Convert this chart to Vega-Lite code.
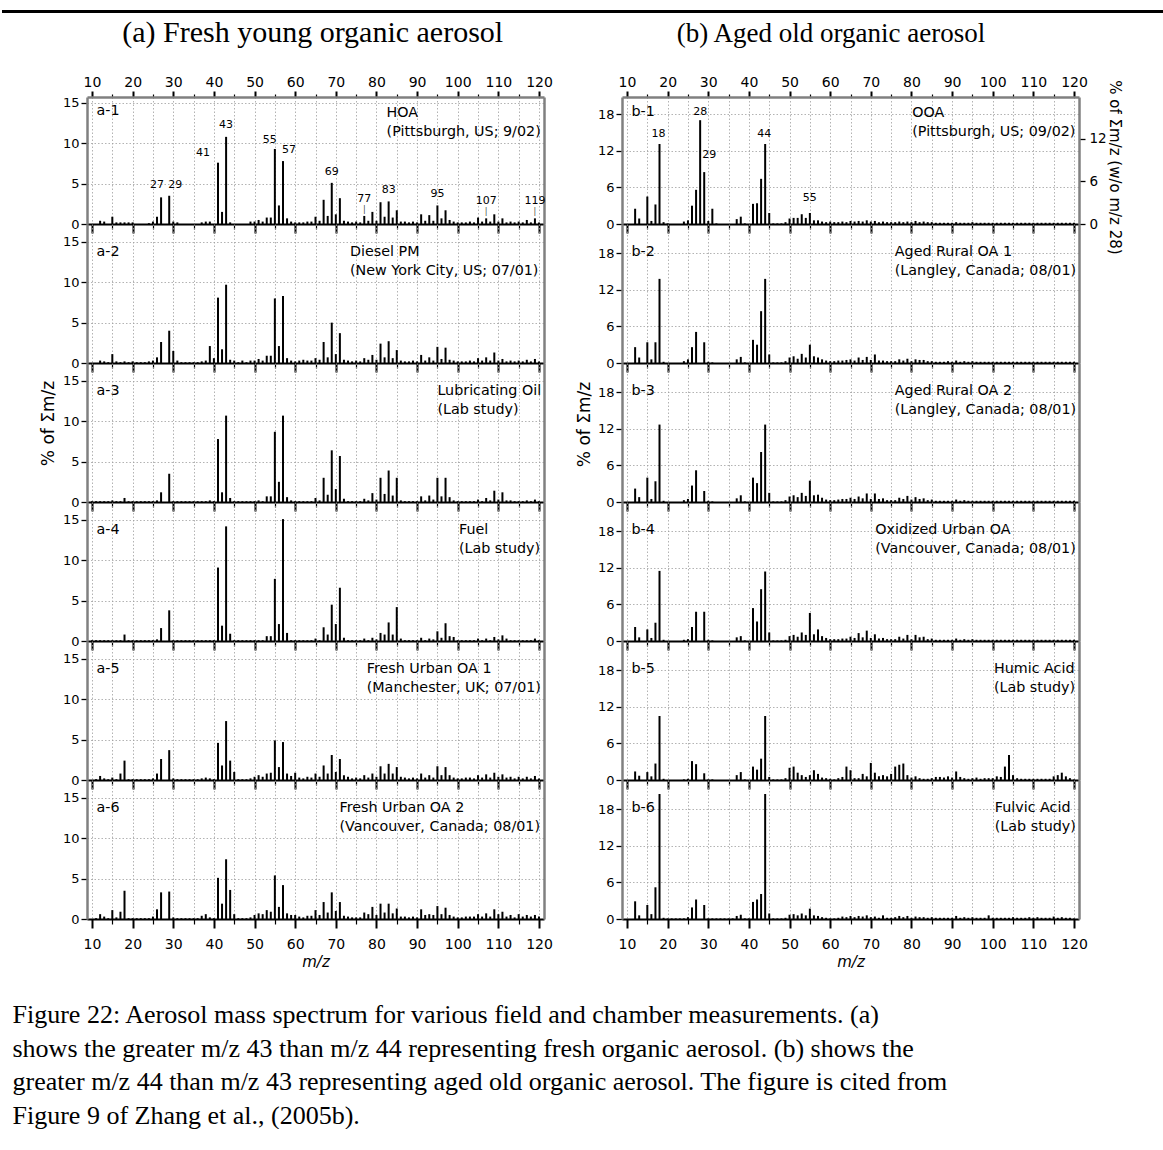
{
"$schema": "https://vega.github.io/schema/vega-lite/v6.json",
"background": "white",
"padding": 0,
"config": {
 "view": {"stroke": null},
 "font": "DejaVu Sans",
 "text": {"font": "DejaVu Sans", "color": "black"},
 "axis": {"labelFont": "DejaVu Sans", "labelFontSize": 13.5, "labelColor": "black", "tickColor": "black", "domainColor": "#808080", "domainWidth": 2.5, "gridColor": "#a0a0a0", "gridDash": [1.5, 2], "gridWidth": 0.8, "titleFont": "DejaVu Sans", "titleFontWeight": "normal", "titleColor": "black", "labelPadding": 2, "tickSize": 6, "tickWidth": 1.3, "labelFlush": false, "labelOverlap": false},
 "axisLeft": {"labelFontSize": 13},
 "axisBottom": {"domainColor": "black", "domainWidth": 2},
 "title": {"font": "Liberation Serif", "fontWeight": "normal", "color": "black"}
},
"datasets": {"ms": [
{"m":10,"a1":0,"a2":0,"a3":0.1,"a4":0.1,"a5":0,"a6":0,"b1":0,"b2":0,"b3":0,"b4":0,"b5":0,"b6":0},
{"m":11,"a1":0,"a2":0,"a3":0.1,"a4":0.1,"a5":0.1,"a6":0.1,"b1":0,"b2":0,"b3":0,"b4":0,"b5":0,"b6":0},
{"m":12,"a1":0.4,"a2":0.3,"a3":0.1,"a4":0.1,"a5":0.5,"a6":0.6,"b1":2.5,"b2":2.6,"b3":2.2,"b4":2.3,"b5":1.4,"b6":2.9},
{"m":13,"a1":0.3,"a2":0.2,"a3":0.1,"a4":0.1,"a5":0.2,"a6":0.3,"b1":0.9,"b2":0.9,"b3":0.8,"b4":0.6,"b5":0.7,"b6":0.6},
{"m":14,"a1":0,"a2":0.1,"a3":0.1,"a4":0.1,"a5":0.1,"a6":0.1,"b1":0,"b2":0,"b3":0,"b4":0,"b5":0,"b6":0},
{"m":15,"a1":0.9,"a2":1.1,"a3":0.2,"a4":0.1,"a5":0.3,"a6":1.1,"b1":4.5,"b2":3.4,"b3":4.0,"b4":1.9,"b5":1.3,"b6":2.3},
{"m":16,"a1":0.2,"a2":0.2,"a3":0.1,"a4":0.1,"a5":0.1,"a6":0.2,"b1":0.5,"b2":0.6,"b3":0.5,"b4":0.5,"b5":0.6,"b6":0.8},
{"m":17,"a1":0.2,"a2":0.1,"a3":0.1,"a4":0.1,"a5":0.8,"a6":0.9,"b1":3.2,"b2":3.4,"b3":3.4,"b4":3.0,"b5":2.7,"b6":5.2},
{"m":18,"a1":0.2,"a2":0.2,"a3":0.5,"a4":0.8,"a5":2.4,"a6":3.5,"b1":13.1,"b2":13.8,"b3":12.7,"b4":11.5,"b5":10.5,"b6":20.5},
{"m":19,"a1":0.2,"a2":0.1,"a3":0.1,"a4":0.1,"a5":0.1,"a6":0.1,"b1":0.3,"b2":0.2,"b3":0.2,"b4":0.2,"b5":0.2,"b6":0.2},
{"m":20,"a1":0.2,"a2":0.2,"a3":0.1,"a4":0.1,"a5":0.1,"a6":0.1,"b1":0.1,"b2":0,"b3":0,"b4":0,"b5":0,"b6":0.1},
{"m":21,"a1":0,"a2":0.1,"a3":0.1,"a4":0.1,"a5":0.1,"a6":0.1,"b1":0,"b2":0,"b3":0,"b4":0,"b5":0,"b6":0.1},
{"m":22,"a1":0,"a2":0.1,"a3":0.1,"a4":0.1,"a5":0.1,"a6":0.1,"b1":0,"b2":0,"b3":0,"b4":0,"b5":0,"b6":0.1},
{"m":23,"a1":0,"a2":0.1,"a3":0.1,"a4":0.1,"a5":0.1,"a6":0.1,"b1":0,"b2":0,"b3":0,"b4":0,"b5":0,"b6":0.1},
{"m":24,"a1":0.1,"a2":0.2,"a3":0.1,"a4":0.1,"a5":0.1,"a6":0.1,"b1":0.4,"b2":0.3,"b3":0.3,"b4":0.2,"b5":0.1,"b6":0.1},
{"m":25,"a1":0.3,"a2":0.3,"a3":0.1,"a4":0.1,"a5":0.2,"a6":0.3,"b1":0.6,"b2":0.6,"b3":0.5,"b4":0.3,"b5":0.2,"b6":0.3},
{"m":26,"a1":0.9,"a2":0.7,"a3":0.2,"a4":0.2,"a5":0.8,"a6":1.2,"b1":3.0,"b2":2.6,"b3":2.7,"b4":2.3,"b5":3.1,"b6":1.9},
{"m":27,"a1":3.3,"a2":2.6,"a3":1.2,"a4":1.6,"a5":2.6,"a6":3.3,"b1":5.6,"b2":5.1,"b3":5.2,"b4":4.8,"b5":2.6,"b6":3.2},
{"m":28,"a1":0,"a2":0,"a3":0,"a4":0,"a5":0,"a6":0,"b1":17.0,"b2":0,"b3":0,"b4":0,"b5":0,"b6":0},
{"m":29,"a1":3.5,"a2":4.0,"a3":3.5,"a4":3.8,"a5":3.7,"a6":3.4,"b1":8.5,"b2":3.4,"b3":1.8,"b4":4.8,"b5":1.1,"b6":2.3},
{"m":30,"a1":0.3,"a2":1.5,"a3":0.1,"a4":0.1,"a5":0.2,"a6":0.2,"b1":0.5,"b2":0.2,"b3":0.2,"b4":0.2,"b5":0.1,"b6":0.1},
{"m":31,"a1":0.2,"a2":0.3,"a3":0.1,"a4":0.1,"a5":0.1,"a6":0.1,"b1":2.5,"b2":0.1,"b3":0.1,"b4":0.1,"b5":0.1,"b6":0.1},
{"m":32,"a1":0,"a2":0.1,"a3":0.1,"a4":0.1,"a5":0.1,"a6":0.1,"b1":0.1,"b2":0,"b3":0,"b4":0,"b5":0,"b6":0.1},
{"m":33,"a1":0,"a2":0.1,"a3":0.1,"a4":0.1,"a5":0.1,"a6":0.1,"b1":0,"b2":0,"b3":0,"b4":0,"b5":0,"b6":0.1},
{"m":34,"a1":0,"a2":0.1,"a3":0.1,"a4":0.1,"a5":0.1,"a6":0.1,"b1":0,"b2":0,"b3":0,"b4":0,"b5":0,"b6":0.1},
{"m":35,"a1":0,"a2":0.1,"a3":0.1,"a4":0.1,"a5":0.1,"a6":0.1,"b1":0,"b2":0,"b3":0,"b4":0,"b5":0,"b6":0.1},
{"m":36,"a1":0,"a2":0.1,"a3":0.1,"a4":0.1,"a5":0.1,"a6":0.1,"b1":0,"b2":0,"b3":0,"b4":0,"b5":0,"b6":0.1},
{"m":37,"a1":0.2,"a2":0.2,"a3":0.1,"a4":0.1,"a5":0.2,"a6":0.4,"b1":0.8,"b2":0.6,"b3":0.6,"b4":0.6,"b5":0.8,"b6":0.5},
{"m":38,"a1":0.3,"a2":0.3,"a3":0.1,"a4":0.1,"a5":0.3,"a6":0.6,"b1":1.2,"b2":1.0,"b3":1.1,"b4":0.8,"b5":1.3,"b6":0.7},
{"m":39,"a1":0.3,"a2":2.1,"a3":0.2,"a4":0.1,"a5":0.2,"a6":0.2,"b1":0.1,"b2":0.1,"b3":0.1,"b4":0.1,"b5":0.1,"b6":0.1},
{"m":40,"a1":0,"a2":0.6,"a3":0.1,"a4":0.1,"a5":0.1,"a6":0.1,"b1":0,"b2":0,"b3":0,"b4":0,"b5":0,"b6":0.1},
{"m":41,"a1":7.6,"a2":8.1,"a3":7.8,"a4":9.1,"a5":4.6,"a6":5.1,"b1":3.3,"b2":3.8,"b3":4.0,"b4":5.4,"b5":2.2,"b6":2.8},
{"m":42,"a1":1.5,"a2":1.7,"a3":1.2,"a4":1.9,"a5":1.8,"a6":1.9,"b1":3.4,"b2":3.0,"b3":3.1,"b4":3.2,"b5":1.7,"b6":3.2},
{"m":43,"a1":10.8,"a2":9.7,"a3":10.7,"a4":14.2,"a5":7.3,"a6":7.4,"b1":7.4,"b2":8.5,"b3":8.2,"b4":8.5,"b5":3.5,"b6":4.1},
{"m":44,"a1":0.2,"a2":0.4,"a3":0.5,"a4":0.9,"a5":2.4,"a6":3.6,"b1":13.1,"b2":13.8,"b3":12.7,"b4":11.4,"b5":10.5,"b6":20.5},
{"m":45,"a1":0,"a2":0.3,"a3":0.1,"a4":0.1,"a5":1.0,"a6":0.6,"b1":1.8,"b2":1.4,"b3":1.5,"b4":1.4,"b5":0.5,"b6":0.9},
{"m":46,"a1":0,"a2":0.1,"a3":0.1,"a4":0.1,"a5":0.1,"a6":0.1,"b1":0.1,"b2":0.1,"b3":0.1,"b4":0.1,"b5":0.1,"b6":0.1},
{"m":47,"a1":0,"a2":0.3,"a3":0.1,"a4":0.1,"a5":0.1,"a6":0.1,"b1":0.1,"b2":0.1,"b3":0.1,"b4":0.1,"b5":0.1,"b6":0.1},
{"m":48,"a1":0,"a2":0.1,"a3":0.1,"a4":0.1,"a5":0.1,"a6":0.1,"b1":0.1,"b2":0.1,"b3":0.1,"b4":0.1,"b5":0.1,"b6":0.1},
{"m":49,"a1":0.3,"a2":0.3,"a3":0.1,"a4":0.1,"a5":0.2,"a6":0.2,"b1":0.3,"b2":0.3,"b3":0.3,"b4":0.2,"b5":0.3,"b6":0.2},
{"m":50,"a1":0.3,"a2":0.3,"a3":0.1,"a4":0.1,"a5":0.4,"a6":0.5,"b1":0.9,"b2":0.9,"b3":0.9,"b4":0.8,"b5":2.0,"b6":0.7},
{"m":51,"a1":0.5,"a2":0.5,"a3":0.2,"a4":0.1,"a5":0.6,"a6":0.7,"b1":1.0,"b2":1.1,"b3":1.1,"b4":1.0,"b5":2.2,"b6":0.8},
{"m":52,"a1":0.3,"a2":0.3,"a3":0.1,"a4":0.1,"a5":0.4,"a6":0.6,"b1":1.0,"b2":0.7,"b3":0.8,"b4":0.7,"b5":1.2,"b6":0.6},
{"m":53,"a1":0.8,"a2":0.9,"a3":0.7,"a4":0.6,"a5":0.8,"a6":1.1,"b1":1.6,"b2":1.5,"b3":1.5,"b4":1.4,"b5":0.8,"b6":0.9},
{"m":54,"a1":0.8,"a2":0.9,"a3":0.7,"a4":0.6,"a5":0.9,"a6":0.9,"b1":1.0,"b2":0.9,"b3":1.0,"b4":1.0,"b5":0.5,"b6":0.6},
{"m":55,"a1":9.3,"a2":8.0,"a3":8.7,"a4":7.7,"a5":4.9,"a6":5.4,"b1":1.8,"b2":3.0,"b3":3.5,"b4":4.6,"b5":0.8,"b6":1.7},
{"m":56,"a1":2.3,"a2":2.1,"a3":2.5,"a4":2.1,"a5":1.6,"a6":1.5,"b1":0.6,"b2":1.1,"b3":1.1,"b4":1.1,"b5":1.6,"b6":0.6},
{"m":57,"a1":7.8,"a2":8.3,"a3":10.7,"a4":15.1,"a5":4.7,"a6":4.2,"b1":0.6,"b2":0.9,"b3":1.2,"b4":1.9,"b5":1.0,"b6":0.5},
{"m":58,"a1":0.7,"a2":0.6,"a3":0.6,"a4":1.0,"a5":0.8,"a6":0.7,"b1":0.4,"b2":0.6,"b3":0.7,"b4":0.8,"b5":0.4,"b6":0.3},
{"m":59,"a1":0.3,"a2":0.3,"a3":0.2,"a4":0.1,"a5":0.5,"a6":0.5,"b1":0.3,"b2":0.4,"b3":0.4,"b4":0.5,"b5":0.3,"b6":0.2},
{"m":60,"a1":0.2,"a2":0.2,"a3":0.1,"a4":0.1,"a5":0.9,"a6":0.5,"b1":0.4,"b2":0.3,"b3":0.3,"b4":0.3,"b5":0.2,"b6":0.1},
{"m":61,"a1":0.2,"a2":0.3,"a3":0.1,"a4":0.1,"a5":0.3,"a6":0.3,"b1":0.3,"b2":0.3,"b3":0.3,"b4":0.3,"b5":0.1,"b6":0.1},
{"m":62,"a1":0.2,"a2":0.4,"a3":0.1,"a4":0.1,"a5":0.2,"a6":0.2,"b1":0.3,"b2":0.4,"b3":0.4,"b4":0.3,"b5":0.3,"b6":0.2},
{"m":63,"a1":0.3,"a2":0.3,"a3":0.1,"a4":0.1,"a5":0.4,"a6":0.4,"b1":0.4,"b2":0.4,"b3":0.5,"b4":0.4,"b5":0.5,"b6":0.4},
{"m":64,"a1":0.3,"a2":0.3,"a3":0.1,"a4":0.1,"a5":0.3,"a6":0.4,"b1":0.3,"b2":0.5,"b3":0.5,"b4":0.4,"b5":2.2,"b6":0.3},
{"m":65,"a1":0.9,"a2":0.6,"a3":0.5,"a4":0.3,"a5":0.8,"a6":1.1,"b1":0.5,"b2":0.6,"b3":0.7,"b4":0.7,"b5":1.6,"b6":0.5},
{"m":66,"a1":0.4,"a2":0.4,"a3":0.2,"a4":0.1,"a5":0.4,"a6":0.5,"b1":0.4,"b2":0.4,"b3":0.5,"b4":0.5,"b5":0.3,"b6":0.3},
{"m":67,"a1":3.0,"a2":2.6,"a3":3.0,"a4":1.7,"a5":1.8,"a6":2.1,"b1":0.5,"b2":0.9,"b3":0.9,"b4":1.3,"b5":0.3,"b6":0.5},
{"m":68,"a1":1.0,"a2":0.7,"a3":0.9,"a4":0.8,"a5":0.8,"a6":0.8,"b1":0.4,"b2":0.5,"b3":0.6,"b4":0.6,"b5":1.0,"b6":0.4},
{"m":69,"a1":5.1,"a2":5.0,"a3":6.4,"a4":4.5,"a5":3.1,"a6":3.3,"b1":0.6,"b2":1.0,"b3":1.4,"b4":1.7,"b5":0.6,"b6":0.6},
{"m":70,"a1":1.2,"a2":1.1,"a3":1.6,"a4":2.1,"a5":1.0,"a6":1.0,"b1":0.4,"b2":0.5,"b3":0.5,"b4":0.5,"b5":2.8,"b6":0.3},
{"m":71,"a1":3.2,"a2":3.7,"a3":5.7,"a4":6.6,"a5":2.6,"a6":2.1,"b1":0.5,"b2":1.4,"b3":1.4,"b4":1.1,"b5":1.2,"b6":0.4},
{"m":72,"a1":0.4,"a2":0.4,"a3":0.4,"a4":0.4,"a5":0.6,"a6":0.4,"b1":0.3,"b2":0.4,"b3":0.5,"b4":0.4,"b5":0.6,"b6":0.2},
{"m":73,"a1":0.3,"a2":0.3,"a3":0.1,"a4":0.1,"a5":0.4,"a6":0.3,"b1":0.4,"b2":0.4,"b3":0.6,"b4":0.5,"b5":0.8,"b6":0.6},
{"m":74,"a1":0.2,"a2":0.2,"a3":0.1,"a4":0.1,"a5":0.2,"a6":0.2,"b1":0.3,"b2":0.3,"b3":0.3,"b4":0.3,"b5":0.6,"b6":0.2},
{"m":75,"a1":0.3,"a2":0.3,"a3":0.1,"a4":0.1,"a5":0.3,"a6":0.2,"b1":0.3,"b2":0.3,"b3":0.3,"b4":0.3,"b5":1.0,"b6":0.2},
{"m":76,"a1":0.2,"a2":0.2,"a3":0.1,"a4":0.1,"a5":0.2,"a6":0.2,"b1":0.3,"b2":0.3,"b3":0.3,"b4":0.3,"b5":2.2,"b6":0.3},
{"m":77,"a1":1.0,"a2":0.6,"a3":0.4,"a4":0.3,"a5":0.6,"a6":0.8,"b1":0.4,"b2":0.6,"b3":0.7,"b4":0.7,"b5":2.5,"b6":0.5},
{"m":78,"a1":0.4,"a2":0.4,"a3":0.2,"a4":0.1,"a5":0.3,"a6":0.6,"b1":0.3,"b2":0.4,"b3":0.5,"b4":0.4,"b5":2.7,"b6":0.3},
{"m":79,"a1":1.5,"a2":1.0,"a3":1.1,"a4":0.4,"a5":0.8,"a6":1.5,"b1":0.4,"b2":0.7,"b3":1.0,"b4":1.0,"b5":0.8,"b6":0.5},
{"m":80,"a1":0.4,"a2":0.4,"a3":0.3,"a4":0.2,"a5":0.4,"a6":0.5,"b1":0.3,"b2":0.3,"b3":0.4,"b4":0.3,"b5":0.4,"b6":0.2},
{"m":81,"a1":2.7,"a2":2.4,"a3":3.0,"a4":1.0,"a5":1.7,"a6":1.9,"b1":0.5,"b2":0.6,"b3":0.8,"b4":1.0,"b5":0.6,"b6":0.4},
{"m":82,"a1":0.9,"a2":0.7,"a3":1.0,"a4":0.8,"a5":0.8,"a6":0.8,"b1":0.3,"b2":0.5,"b3":0.5,"b4":0.6,"b5":0.3,"b6":0.3},
{"m":83,"a1":2.8,"a2":2.7,"a3":3.9,"a4":2.3,"a5":2.0,"a6":1.9,"b1":0.4,"b2":0.5,"b3":0.6,"b4":0.7,"b5":0.2,"b6":0.3},
{"m":84,"a1":0.8,"a2":0.6,"a3":0.8,"a4":0.8,"a5":0.8,"a6":0.7,"b1":0.3,"b2":0.3,"b3":0.3,"b4":0.3,"b5":0.2,"b6":0.2},
{"m":85,"a1":1.7,"a2":1.6,"a3":3.0,"a4":4.2,"a5":1.6,"a6":1.3,"b1":0.3,"b2":0.3,"b3":0.4,"b4":0.4,"b5":0.3,"b6":0.3},
{"m":86,"a1":0.3,"a2":0.3,"a3":0.2,"a4":0.3,"a5":0.4,"a6":0.3,"b1":0.2,"b2":0.2,"b3":0.2,"b4":0.2,"b5":0.5,"b6":0.2},
{"m":87,"a1":0.3,"a2":0.2,"a3":0.1,"a4":0.1,"a5":0.3,"a6":0.3,"b1":0.2,"b2":0.2,"b3":0.2,"b4":0.2,"b5":0.5,"b6":0.2},
{"m":88,"a1":0.2,"a2":0.2,"a3":0.1,"a4":0.1,"a5":0.2,"a6":0.2,"b1":0.2,"b2":0.2,"b3":0.2,"b4":0.2,"b5":0.4,"b6":0.2},
{"m":89,"a1":0.3,"a2":0.3,"a3":0.1,"a4":0.1,"a5":0.3,"a6":0.3,"b1":0.2,"b2":0.3,"b3":0.2,"b4":0.2,"b5":0.6,"b6":0.2},
{"m":90,"a1":0.2,"a2":0.2,"a3":0.1,"a4":0.1,"a5":0.2,"a6":0.2,"b1":0.2,"b2":0.2,"b3":0.2,"b4":0.2,"b5":0.4,"b6":0.2},
{"m":91,"a1":1.2,"a2":1.0,"a3":0.7,"a4":0.4,"a5":0.8,"a6":1.2,"b1":0.3,"b2":0.4,"b3":0.4,"b4":0.4,"b5":1.4,"b6":0.5},
{"m":92,"a1":0.4,"a2":0.3,"a3":0.2,"a4":0.1,"a5":0.3,"a6":0.5,"b1":0.2,"b2":0.2,"b3":0.2,"b4":0.2,"b5":0.5,"b6":0.2},
{"m":93,"a1":1.1,"a2":0.7,"a3":0.8,"a4":0.3,"a5":0.6,"a6":0.6,"b1":0.2,"b2":0.3,"b3":0.3,"b4":0.3,"b5":0.3,"b6":0.3},
{"m":94,"a1":0.4,"a2":0.3,"a3":0.3,"a4":0.2,"a5":0.3,"a6":0.5,"b1":0.2,"b2":0.2,"b3":0.2,"b4":0.2,"b5":0.2,"b6":0.2},
{"m":95,"a1":2.3,"a2":2.0,"a3":3.0,"a4":1.2,"a5":1.7,"a6":1.6,"b1":0.3,"b2":0.3,"b3":0.2,"b4":0.3,"b5":0.3,"b6":0.3},
{"m":96,"a1":0.7,"a2":0.5,"a3":0.7,"a4":0.4,"a5":0.6,"a6":0.6,"b1":0.2,"b2":0.2,"b3":0.2,"b4":0.2,"b5":0.4,"b6":0.2},
{"m":97,"a1":1.7,"a2":1.9,"a3":3.0,"a4":2.2,"a5":1.6,"a6":1.4,"b1":0.2,"b2":0.2,"b3":0.2,"b4":0.2,"b5":0.2,"b6":0.2},
{"m":98,"a1":0.5,"a2":0.4,"a3":0.6,"a4":0.6,"a5":0.6,"a6":0.5,"b1":0.2,"b2":0.2,"b3":0.2,"b4":0.2,"b5":0.3,"b6":0.2},
{"m":99,"a1":0.3,"a2":0.3,"a3":0.2,"a4":0.5,"a5":0.3,"a6":0.3,"b1":0.2,"b2":0.2,"b3":0.2,"b4":0.2,"b5":0.3,"b6":0.6},
{"m":100,"a1":0.2,"a2":0.2,"a3":0.1,"a4":0.1,"a5":0.2,"a6":0.2,"b1":0.2,"b2":0.2,"b3":0.2,"b4":0.2,"b5":0.3,"b6":0.2},
{"m":101,"a1":0.2,"a2":0.2,"a3":0.1,"a4":0.1,"a5":0.2,"a6":0.2,"b1":0.2,"b2":0.2,"b3":0.2,"b4":0.2,"b5":0.6,"b6":0.2},
{"m":102,"a1":0.2,"a2":0.2,"a3":0.1,"a4":0.1,"a5":0.3,"a6":0.3,"b1":0.2,"b2":0.2,"b3":0.2,"b4":0.2,"b5":0.5,"b6":0.2},
{"m":103,"a1":0.3,"a2":0.3,"a3":0.1,"a4":0.1,"a5":0.3,"a6":0.3,"b1":0.2,"b2":0.2,"b3":0.2,"b4":0.2,"b5":2.2,"b6":0.2},
{"m":104,"a1":0.2,"a2":0.2,"a3":0.1,"a4":0.1,"a5":0.2,"a6":0.3,"b1":0.2,"b2":0.2,"b3":0.2,"b4":0.2,"b5":4.1,"b6":0.2},
{"m":105,"a1":0.8,"a2":0.6,"a3":0.3,"a4":0.3,"a5":0.6,"a6":0.6,"b1":0.2,"b2":0.2,"b3":0.2,"b4":0.2,"b5":0.8,"b6":0.3},
{"m":106,"a1":0.3,"a2":0.3,"a3":0.1,"a4":0.1,"a5":0.3,"a6":0.3,"b1":0.2,"b2":0.2,"b3":0.2,"b4":0.2,"b5":0.3,"b6":0.2},
{"m":107,"a1":0.7,"a2":0.7,"a3":0.5,"a4":0.3,"a5":0.7,"a6":0.7,"b1":0.2,"b2":0.2,"b3":0.2,"b4":0.2,"b5":0.2,"b6":0.2},
{"m":108,"a1":0.3,"a2":0.3,"a3":0.2,"a4":0.1,"a5":0.3,"a6":0.3,"b1":0.2,"b2":0.2,"b3":0.2,"b4":0.2,"b5":0.2,"b6":0.2},
{"m":109,"a1":1.2,"a2":1.3,"a3":1.4,"a4":0.5,"a5":0.9,"a6":1.2,"b1":0.2,"b2":0.2,"b3":0.2,"b4":0.2,"b5":0.2,"b6":0.3},
{"m":110,"a1":0.3,"a2":0.3,"a3":0.3,"a4":0.2,"a5":0.4,"a6":0.6,"b1":0.2,"b2":0.2,"b3":0.2,"b4":0.2,"b5":0.2,"b6":0.2},
{"m":111,"a1":0.7,"a2":0.5,"a3":1.2,"a4":0.7,"a5":0.7,"a6":0.9,"b1":0.2,"b2":0.2,"b3":0.2,"b4":0.2,"b5":0.2,"b6":0.3},
{"m":112,"a1":0.2,"a2":0.2,"a3":0.2,"a4":0.3,"a5":0.3,"a6":0.3,"b1":0.2,"b2":0.2,"b3":0.2,"b4":0.2,"b5":0.2,"b6":0.2},
{"m":113,"a1":0.3,"a2":0.3,"a3":0.2,"a4":0.1,"a5":0.4,"a6":0.5,"b1":0.2,"b2":0.2,"b3":0.2,"b4":0.2,"b5":0.2,"b6":0.2},
{"m":114,"a1":0.2,"a2":0.2,"a3":0.1,"a4":0.1,"a5":0.2,"a6":0.2,"b1":0.2,"b2":0.2,"b3":0.2,"b4":0.2,"b5":0.2,"b6":0.2},
{"m":115,"a1":0.3,"a2":0.3,"a3":0.1,"a4":0.1,"a5":0.4,"a6":0.6,"b1":0.2,"b2":0.2,"b3":0.2,"b4":0.2,"b5":0.6,"b6":0.4},
{"m":116,"a1":0.2,"a2":0.2,"a3":0.1,"a4":0.1,"a5":0.2,"a6":0.3,"b1":0.2,"b2":0.2,"b3":0.2,"b4":0.2,"b5":0.8,"b6":0.2},
{"m":117,"a1":0.5,"a2":0.4,"a3":0.2,"a4":0.1,"a5":0.4,"a6":0.5,"b1":0.2,"b2":0.2,"b3":0.2,"b4":0.2,"b5":1.2,"b6":0.3},
{"m":118,"a1":0.2,"a2":0.2,"a3":0.1,"a4":0.1,"a5":0.2,"a6":0.3,"b1":0.2,"b2":0.2,"b3":0.2,"b4":0.2,"b5":0.6,"b6":0.2},
{"m":119,"a1":0.7,"a2":0.5,"a3":0.3,"a4":0.3,"a5":0.5,"a6":0.5,"b1":0.2,"b2":0.2,"b3":0.2,"b4":0.2,"b5":0.3,"b6":0.2},
{"m":120,"a1":0.2,"a2":0.2,"a3":0.1,"a4":0.1,"a5":0.2,"a6":0.3,"b1":0.2,"b2":0.2,"b3":0.2,"b4":0.2,"b5":0.1,"b6":0.1}
]},
"data": {"name": "ms"},
"title": {"text": ["Figure 22:  Aerosol mass spectrum for various field and chamber measurements. (a)", "shows the greater m/z 43 than m/z 44 representing fresh organic aerosol. (b) shows the", "greater m/z 44 than m/z 43 representing aged old organic aerosol. The figure is cited from", "Figure 9 of Zhang et al., (2005b)."], "orient": "bottom", "anchor": "start", "frame": "bounds", "font": "Liberation Serif", "fontSize": 26, "fontWeight": "normal", "color": "black", "lineHeight": 33.5, "offset": 33, "dx": 12},
"spacing": 0,
"vconcat": [
{"width": 1163, "height": 18, "data": {"values": [{"k": 1}]}, "mark": {"type": "rule", "strokeWidth": 3, "color": "black"}, "encoding": {"y": {"datum": 6.5, "type": "quantitative", "scale": {"domain": [0, 18]}, "axis": null}}},
{"spacing": 21, "hconcat": [
{"width": 15, "height": 10, "data": {"values": []}, "mark": "point"},
{"title": {"text": "(a) Fresh young organic aerosol", "font": "Liberation Serif", "fontSize": 30, "fontWeight": "normal", "color": "black", "anchor": "middle", "offset": 3, "baseline": "alphabetic", "dx": 17},
 "spacing": 0, "bounds": "flush",
 "vconcat": [
 {"width": 457, "height": 127, "transform": [{"fold": ["a1"], "as": ["p", "v"]}],
  "resolve": {"axis": {"x": "independent", "y": "independent"}},
  "layer": [
   {"mark": {"type": "bar", "orient": "vertical", "color": "black", "size": 2},
    "encoding": {"x": {"field": "m", "type": "quantitative", "scale": {"domain": [10, 120], "nice": false, "zero": false}, "axis": {"orient": "bottom", "values": [10,15,20,25,30,35,40,45,50,55,60,65,70,75,80,85,90,95,100,105,110,115,120], "labels": false, "grid": true, "title": null, "tickSize": {"condition": {"test": "datum.value % 10 === 0", "value": 9}, "value": 5}, "tickWidth": {"condition": {"test": "datum.value % 10 === 0", "value": 2}, "value": 1.2}}},
     "y": {"field": "v", "type": "quantitative", "scale": {"domain": [0, 15.74], "nice": false, "zero": false}, "axis": {"orient": "left", "values": [0,5,10,15], "grid": true, "title": null}}}},
   {"transform": [{"filter": {"field": "m", "oneOf": [41]}}], "mark": {"type": "text", "fontSize": 11, "baseline": "bottom", "dx": -15, "dy": -5}, "encoding": {"x": {"field": "m", "type": "quantitative", "scale": {"domain": [10, 120], "nice": false, "zero": false}, "axis": null}, "y": {"field": "v", "type": "quantitative", "scale": {"domain": [0, 15.74], "nice": false, "zero": false}, "axis": null}, "text": {"field": "m", "type": "quantitative"}}},
   {"transform": [{"filter": {"field": "m", "oneOf": [43]}}], "mark": {"type": "text", "fontSize": 11, "baseline": "bottom", "dx": 0, "dy": -7}, "encoding": {"x": {"field": "m", "type": "quantitative", "scale": {"domain": [10, 120], "nice": false, "zero": false}, "axis": null}, "y": {"field": "v", "type": "quantitative", "scale": {"domain": [0, 15.74], "nice": false, "zero": false}, "axis": null}, "text": {"field": "m", "type": "quantitative"}}},
   {"transform": [{"filter": {"field": "m", "oneOf": [55]}}], "mark": {"type": "text", "fontSize": 11, "baseline": "bottom", "dx": -5, "dy": -4}, "encoding": {"x": {"field": "m", "type": "quantitative", "scale": {"domain": [10, 120], "nice": false, "zero": false}, "axis": null}, "y": {"field": "v", "type": "quantitative", "scale": {"domain": [0, 15.74], "nice": false, "zero": false}, "axis": null}, "text": {"field": "m", "type": "quantitative"}}},
   {"transform": [{"filter": {"field": "m", "oneOf": [57, 29]}}], "mark": {"type": "text", "fontSize": 11, "baseline": "bottom", "dx": 6, "dy": -6}, "encoding": {"x": {"field": "m", "type": "quantitative", "scale": {"domain": [10, 120], "nice": false, "zero": false}, "axis": null}, "y": {"field": "v", "type": "quantitative", "scale": {"domain": [0, 15.74], "nice": false, "zero": false}, "axis": null}, "text": {"field": "m", "type": "quantitative"}}},
   {"transform": [{"filter": {"field": "m", "oneOf": [69, 83, 95]}}], "mark": {"type": "text", "fontSize": 11, "baseline": "bottom", "dx": 0, "dy": -6}, "encoding": {"x": {"field": "m", "type": "quantitative", "scale": {"domain": [10, 120], "nice": false, "zero": false}, "axis": null}, "y": {"field": "v", "type": "quantitative", "scale": {"domain": [0, 15.74], "nice": false, "zero": false}, "axis": null}, "text": {"field": "m", "type": "quantitative"}}},
   {"transform": [{"filter": {"field": "m", "oneOf": [27]}}], "mark": {"type": "text", "fontSize": 11, "baseline": "bottom", "dx": -4, "dy": -7}, "encoding": {"x": {"field": "m", "type": "quantitative", "scale": {"domain": [10, 120], "nice": false, "zero": false}, "axis": null}, "y": {"field": "v", "type": "quantitative", "scale": {"domain": [0, 15.74], "nice": false, "zero": false}, "axis": null}, "text": {"field": "m", "type": "quantitative"}}},
   {"transform": [{"filter": {"field": "m", "oneOf": [77, 107, 119]}}], "mark": {"type": "text", "fontSize": 11, "baseline": "bottom", "dx": 0, "dy": -12}, "encoding": {"x": {"field": "m", "type": "quantitative", "scale": {"domain": [10, 120], "nice": false, "zero": false}, "axis": null}, "y": {"field": "v", "type": "quantitative", "scale": {"domain": [0, 15.74], "nice": false, "zero": false}, "axis": null}, "text": {"field": "m", "type": "quantitative"}}},
   {"transform": [{"filter": {"field": "m", "oneOf": [77, 107, 119]}}], "mark": {"type": "text", "fontSize": 8, "baseline": "bottom", "dx": 0, "dy": -2, "color": "#444", "text": "|"}, "encoding": {"x": {"field": "m", "type": "quantitative", "scale": {"domain": [10, 120], "nice": false, "zero": false}, "axis": null}, "y": {"field": "v", "type": "quantitative", "scale": {"domain": [0, 15.74], "nice": false, "zero": false}, "axis": null}}},
   {"data": {"values": [{"id": "a-1"}]}, "mark": {"type": "text", "align": "left", "baseline": "middle", "fontSize": 14.3},
    "encoding": {"x": {"datum": 11.1, "type": "quantitative", "scale": {"domain": [10, 120], "nice": false, "zero": false}, "axis": {"orient": "top", "values": [10,15,20,25,30,35,40,45,50,55,60,65,70,75,80,85,90,95,100,105,110,115,120], "grid": false, "labelExpr": "datum.value % 10 === 0 ? datum.label : ''", "labelPadding": 2, "labelFontSize": 14, "title": null, "tickSize": {"condition": {"test": "datum.value % 10 === 0", "value": 6}, "value": 3}, "tickWidth": {"condition": {"test": "datum.value % 10 === 0", "value": 2}, "value": 1.2}}},
     "y": {"datum": 14.0, "type": "quantitative", "scale": {"domain": [0, 15.74], "nice": false, "zero": false}, "axis": null},
     "text": {"field": "id"}}},
   {"data": {"values": [{"d": ["HOA", "(Pittsburgh, US; 9/02)"]}]}, "mark": {"type": "text", "align": "left", "baseline": "alphabetic", "fontSize": 14.3, "lineHeight": 19},
    "encoding": {"x": {"datum": 82.5, "type": "quantitative", "scale": {"domain": [10, 120], "nice": false, "zero": false}, "axis": null},
     "y": {"datum": 13.24, "type": "quantitative", "scale": {"domain": [0, 15.74], "nice": false, "zero": false}, "axis": {"orient": "right", "labels": false, "ticks": false, "grid": false, "title": null}},
     "text": {"field": "d"}}}
  ]},
 {"width": 457, "height": 139, "transform": [{"fold": ["a2"], "as": ["p", "v"]}],
  "resolve": {"axis": {"x": "independent", "y": "independent"}},
  "layer": [
   {"mark": {"type": "bar", "orient": "vertical", "color": "black", "size": 2},
    "encoding": {"x": {"field": "m", "type": "quantitative", "scale": {"domain": [10, 120], "nice": false, "zero": false}, "axis": {"orient": "bottom", "values": [10,15,20,25,30,35,40,45,50,55,60,65,70,75,80,85,90,95,100,105,110,115,120], "labels": false, "grid": true, "title": null, "tickSize": {"condition": {"test": "datum.value % 10 === 0", "value": 9}, "value": 5}, "tickWidth": {"condition": {"test": "datum.value % 10 === 0", "value": 2}, "value": 1.2}}},
     "y": {"field": "v", "type": "quantitative", "scale": {"domain": [0, 17.22], "nice": false, "zero": false}, "axis": {"orient": "left", "values": [0,5,10,15], "grid": true, "title": null}}}},
   {"data": {"values": [{"id": "a-2"}]}, "mark": {"type": "text", "align": "left", "baseline": "middle", "fontSize": 14.3},
    "encoding": {"x": {"datum": 11.1, "type": "quantitative", "scale": {"domain": [10, 120], "nice": false, "zero": false}, "axis": null}, "y": {"datum": 13.7, "type": "quantitative", "scale": {"domain": [0, 17.22], "nice": false, "zero": false}, "axis": null}, "text": {"field": "id"}}},
   {"data": {"values": [{"d": ["Diesel PM", "(New York City, US; 07/01)"]}]}, "mark": {"type": "text", "align": "left", "baseline": "alphabetic", "fontSize": 14.3, "lineHeight": 19},
    "encoding": {"x": {"datum": 73.5, "type": "quantitative", "scale": {"domain": [10, 120], "nice": false, "zero": false}, "axis": null}, "y": {"datum": 13.26, "type": "quantitative", "scale": {"domain": [0, 17.22], "nice": false, "zero": false}, "axis": {"orient": "right", "labels": false, "ticks": false, "grid": false, "title": null}}, "text": {"field": "d"}}}
  ]},
 {"width": 457, "height": 139, "transform": [{"fold": ["a3"], "as": ["p", "v"]}],
  "resolve": {"axis": {"x": "independent", "y": "independent"}},
  "layer": [
   {"mark": {"type": "bar", "orient": "vertical", "color": "black", "size": 2},
    "encoding": {"x": {"field": "m", "type": "quantitative", "scale": {"domain": [10, 120], "nice": false, "zero": false}, "axis": {"orient": "bottom", "values": [10,15,20,25,30,35,40,45,50,55,60,65,70,75,80,85,90,95,100,105,110,115,120], "labels": false, "grid": true, "title": null, "tickSize": {"condition": {"test": "datum.value % 10 === 0", "value": 9}, "value": 5}, "tickWidth": {"condition": {"test": "datum.value % 10 === 0", "value": 2}, "value": 1.2}}},
     "y": {"field": "v", "type": "quantitative", "scale": {"domain": [0, 17.22], "nice": false, "zero": false}, "axis": {"orient": "left", "values": [0,5,10,15], "grid": true, "title": "% of Σm/z", "titleFontSize": 17, "titleX": -30, "titleY": 60, "titleAngle": -90, "titleAlign": "center", "titleBaseline": "bottom"}}}},
   {"data": {"values": [{"id": "a-3"}]}, "mark": {"type": "text", "align": "left", "baseline": "middle", "fontSize": 14.3},
    "encoding": {"x": {"datum": 11.1, "type": "quantitative", "scale": {"domain": [10, 120], "nice": false, "zero": false}, "axis": null}, "y": {"datum": 13.7, "type": "quantitative", "scale": {"domain": [0, 17.22], "nice": false, "zero": false}, "axis": null}, "text": {"field": "id"}}},
   {"data": {"values": [{"d": ["Lubricating Oil", "(Lab study)"]}]}, "mark": {"type": "text", "align": "left", "baseline": "alphabetic", "fontSize": 14.3, "lineHeight": 19},
    "encoding": {"x": {"datum": 95.0, "type": "quantitative", "scale": {"domain": [10, 120], "nice": false, "zero": false}, "axis": null}, "y": {"datum": 13.26, "type": "quantitative", "scale": {"domain": [0, 17.22], "nice": false, "zero": false}, "axis": {"orient": "right", "labels": false, "ticks": false, "grid": false, "title": null}}, "text": {"field": "d"}}}
  ]},
 {"width": 457, "height": 139, "transform": [{"fold": ["a4"], "as": ["p", "v"]}],
  "resolve": {"axis": {"x": "independent", "y": "independent"}},
  "layer": [
   {"mark": {"type": "bar", "orient": "vertical", "color": "black", "size": 2},
    "encoding": {"x": {"field": "m", "type": "quantitative", "scale": {"domain": [10, 120], "nice": false, "zero": false}, "axis": {"orient": "bottom", "values": [10,15,20,25,30,35,40,45,50,55,60,65,70,75,80,85,90,95,100,105,110,115,120], "labels": false, "grid": true, "title": null, "tickSize": {"condition": {"test": "datum.value % 10 === 0", "value": 9}, "value": 5}, "tickWidth": {"condition": {"test": "datum.value % 10 === 0", "value": 2}, "value": 1.2}}},
     "y": {"field": "v", "type": "quantitative", "scale": {"domain": [0, 17.22], "nice": false, "zero": false}, "axis": {"orient": "left", "values": [0,5,10,15], "grid": true, "title": null}}}},
   {"data": {"values": [{"id": "a-4"}]}, "mark": {"type": "text", "align": "left", "baseline": "middle", "fontSize": 14.3},
    "encoding": {"x": {"datum": 11.1, "type": "quantitative", "scale": {"domain": [10, 120], "nice": false, "zero": false}, "axis": null}, "y": {"datum": 13.7, "type": "quantitative", "scale": {"domain": [0, 17.22], "nice": false, "zero": false}, "axis": null}, "text": {"field": "id"}}},
   {"data": {"values": [{"d": ["Fuel", "(Lab study)"]}]}, "mark": {"type": "text", "align": "left", "baseline": "alphabetic", "fontSize": 14.3, "lineHeight": 19},
    "encoding": {"x": {"datum": 100.3, "type": "quantitative", "scale": {"domain": [10, 120], "nice": false, "zero": false}, "axis": null}, "y": {"datum": 13.26, "type": "quantitative", "scale": {"domain": [0, 17.22], "nice": false, "zero": false}, "axis": {"orient": "right", "labels": false, "ticks": false, "grid": false, "title": null}}, "text": {"field": "d"}}}
  ]},
 {"width": 457, "height": 139, "transform": [{"fold": ["a5"], "as": ["p", "v"]}],
  "resolve": {"axis": {"x": "independent", "y": "independent"}},
  "layer": [
   {"mark": {"type": "bar", "orient": "vertical", "color": "black", "size": 2},
    "encoding": {"x": {"field": "m", "type": "quantitative", "scale": {"domain": [10, 120], "nice": false, "zero": false}, "axis": {"orient": "bottom", "values": [10,15,20,25,30,35,40,45,50,55,60,65,70,75,80,85,90,95,100,105,110,115,120], "labels": false, "grid": true, "title": null, "tickSize": {"condition": {"test": "datum.value % 10 === 0", "value": 9}, "value": 5}, "tickWidth": {"condition": {"test": "datum.value % 10 === 0", "value": 2}, "value": 1.2}}},
     "y": {"field": "v", "type": "quantitative", "scale": {"domain": [0, 17.22], "nice": false, "zero": false}, "axis": {"orient": "left", "values": [0,5,10,15], "grid": true, "title": null}}}},
   {"data": {"values": [{"id": "a-5"}]}, "mark": {"type": "text", "align": "left", "baseline": "middle", "fontSize": 14.3},
    "encoding": {"x": {"datum": 11.1, "type": "quantitative", "scale": {"domain": [10, 120], "nice": false, "zero": false}, "axis": null}, "y": {"datum": 13.7, "type": "quantitative", "scale": {"domain": [0, 17.22], "nice": false, "zero": false}, "axis": null}, "text": {"field": "id"}}},
   {"data": {"values": [{"d": ["Fresh Urban OA 1", "(Manchester, UK; 07/01)"]}]}, "mark": {"type": "text", "align": "left", "baseline": "alphabetic", "fontSize": 14.3, "lineHeight": 19},
    "encoding": {"x": {"datum": 77.6, "type": "quantitative", "scale": {"domain": [10, 120], "nice": false, "zero": false}, "axis": null}, "y": {"datum": 13.26, "type": "quantitative", "scale": {"domain": [0, 17.22], "nice": false, "zero": false}, "axis": {"orient": "right", "labels": false, "ticks": false, "grid": false, "title": null}}, "text": {"field": "d"}}}
  ]},
 {"width": 457, "height": 139, "transform": [{"fold": ["a6"], "as": ["p", "v"]}],
  "resolve": {"axis": {"x": "independent", "y": "independent"}},
  "layer": [
   {"mark": {"type": "bar", "orient": "vertical", "color": "black", "size": 2},
    "encoding": {"x": {"field": "m", "type": "quantitative", "scale": {"domain": [10, 120], "nice": false, "zero": false}, "axis": {"orient": "bottom", "values": [10,15,20,25,30,35,40,45,50,55,60,65,70,75,80,85,90,95,100,105,110,115,120], "grid": true, "labelExpr": "datum.value % 10 === 0 ? datum.label : ''", "labelPadding": 9, "labelFontSize": 14, "title": "m/z", "titleFontStyle": "italic", "titleFontSize": 15, "titlePadding": 3, "tickSize": {"condition": {"test": "datum.value % 10 === 0", "value": 9}, "value": 5}, "tickWidth": {"condition": {"test": "datum.value % 10 === 0", "value": 2}, "value": 1.2}}},
     "y": {"field": "v", "type": "quantitative", "scale": {"domain": [0, 17.22], "nice": false, "zero": false}, "axis": {"orient": "left", "values": [0,5,10,15], "grid": true, "title": null}}}},
   {"data": {"values": [{"id": "a-6"}]}, "mark": {"type": "text", "align": "left", "baseline": "middle", "fontSize": 14.3},
    "encoding": {"x": {"datum": 11.1, "type": "quantitative", "scale": {"domain": [10, 120], "nice": false, "zero": false}, "axis": null}, "y": {"datum": 13.7, "type": "quantitative", "scale": {"domain": [0, 17.22], "nice": false, "zero": false}, "axis": null}, "text": {"field": "id"}}},
   {"data": {"values": [{"d": ["Fresh Urban OA 2", "(Vancouver, Canada; 08/01)"]}]}, "mark": {"type": "text", "align": "left", "baseline": "alphabetic", "fontSize": 14.3, "lineHeight": 19},
    "encoding": {"x": {"datum": 70.9, "type": "quantitative", "scale": {"domain": [10, 120], "nice": false, "zero": false}, "axis": null}, "y": {"datum": 13.26, "type": "quantitative", "scale": {"domain": [0, 17.22], "nice": false, "zero": false}, "axis": {"orient": "right", "labels": false, "ticks": false, "grid": false, "title": null}}, "text": {"field": "d"}}}
  ]}
 ]},
{"title": {"text": "(b) Aged old organic aerosol", "font": "Liberation Serif", "fontSize": 27, "fontWeight": "normal", "color": "black", "anchor": "middle", "offset": 6, "baseline": "alphabetic", "dx": -17},
 "spacing": 0, "bounds": "flush",
 "vconcat": [
 {"width": 457, "height": 127, "transform": [{"fold": ["b1"], "as": ["p", "v"]}],
  "resolve": {"scale": {"y": "independent"}, "axis": {"x": "independent", "y": "independent"}},
  "layer": [
   {"mark": {"type": "bar", "orient": "vertical", "color": "black", "size": 2},
    "encoding": {"x": {"field": "m", "type": "quantitative", "scale": {"domain": [10, 120], "nice": false, "zero": false}, "axis": {"orient": "bottom", "values": [10,15,20,25,30,35,40,45,50,55,60,65,70,75,80,85,90,95,100,105,110,115,120], "labels": false, "grid": true, "title": null, "tickSize": {"condition": {"test": "datum.value % 10 === 0", "value": 9}, "value": 5}, "tickWidth": {"condition": {"test": "datum.value % 10 === 0", "value": 2}, "value": 1.2}}},
     "y": {"field": "v", "type": "quantitative", "scale": {"domain": [0, 20.8], "nice": false, "zero": false}, "axis": {"orient": "left", "values": [0,6,12,18], "grid": true, "title": null}}}},
   {"transform": [{"filter": {"field": "m", "oneOf": [18, 44]}}], "mark": {"type": "text", "fontSize": 11, "baseline": "bottom", "dx": -1, "dy": -5}, "encoding": {"x": {"field": "m", "type": "quantitative", "scale": {"domain": [10, 120], "nice": false, "zero": false}, "axis": null}, "y": {"field": "v", "type": "quantitative", "scale": {"domain": [0, 20.8], "nice": false, "zero": false}, "axis": null}, "text": {"field": "m", "type": "quantitative"}}},
   {"transform": [{"filter": {"field": "m", "oneOf": [28]}}], "mark": {"type": "text", "fontSize": 11, "baseline": "bottom", "dx": 0, "dy": -3}, "encoding": {"x": {"field": "m", "type": "quantitative", "scale": {"domain": [10, 120], "nice": false, "zero": false}, "axis": null}, "y": {"field": "v", "type": "quantitative", "scale": {"domain": [0, 20.8], "nice": false, "zero": false}, "axis": null}, "text": {"field": "m", "type": "quantitative"}}},
   {"transform": [{"filter": {"field": "m", "oneOf": [29]}}], "mark": {"type": "text", "fontSize": 11, "baseline": "bottom", "dx": 5, "dy": -12}, "encoding": {"x": {"field": "m", "type": "quantitative", "scale": {"domain": [10, 120], "nice": false, "zero": false}, "axis": null}, "y": {"field": "v", "type": "quantitative", "scale": {"domain": [0, 20.8], "nice": false, "zero": false}, "axis": null}, "text": {"field": "m", "type": "quantitative"}}},
   {"transform": [{"filter": {"field": "m", "oneOf": [55]}}], "mark": {"type": "text", "fontSize": 11, "baseline": "bottom", "dx": 0, "dy": -10}, "encoding": {"x": {"field": "m", "type": "quantitative", "scale": {"domain": [10, 120], "nice": false, "zero": false}, "axis": null}, "y": {"field": "v", "type": "quantitative", "scale": {"domain": [0, 20.8], "nice": false, "zero": false}, "axis": null}, "text": {"field": "m", "type": "quantitative"}}},
   {"data": {"values": [{"id": "b-1"}]}, "mark": {"type": "text", "align": "left", "baseline": "middle", "fontSize": 14.3},
    "encoding": {"x": {"datum": 11.1, "type": "quantitative", "scale": {"domain": [10, 120], "nice": false, "zero": false}, "axis": {"orient": "top", "values": [10,15,20,25,30,35,40,45,50,55,60,65,70,75,80,85,90,95,100,105,110,115,120], "grid": false, "labelExpr": "datum.value % 10 === 0 ? datum.label : ''", "labelPadding": 2, "labelFontSize": 14, "title": null, "tickSize": {"condition": {"test": "datum.value % 10 === 0", "value": 6}, "value": 3}, "tickWidth": {"condition": {"test": "datum.value % 10 === 0", "value": 2}, "value": 1.2}}},
     "y": {"datum": 15.8, "type": "quantitative", "scale": {"domain": [0, 17.9], "nice": false, "zero": false}, "axis": null},
     "text": {"field": "id"}}},
   {"data": {"values": [{"d": ["OOA", "(Pittsburgh, US; 09/02)"]}]}, "mark": {"type": "text", "align": "left", "baseline": "alphabetic", "fontSize": 14.3, "lineHeight": 19},
    "encoding": {"x": {"datum": 80.2, "type": "quantitative", "scale": {"domain": [10, 120], "nice": false, "zero": false}, "axis": null},
     "y": {"datum": 15.07, "type": "quantitative", "scale": {"domain": [0, 17.9], "nice": false, "zero": false}, "axis": {"orient": "right", "values": [0, 6, 12], "grid": false, "labelPadding": 4, "title": "% of Σm/z (w/o m/z 28)", "titleFontSize": 15, "titleAngle": 90, "titleX": 27, "titleY": 70, "titleAlign": "center", "titleBaseline": "bottom"}},
     "text": {"field": "d"}}}
  ]},
 {"width": 457, "height": 139, "transform": [{"fold": ["b2"], "as": ["p", "v"]}],
  "resolve": {"axis": {"x": "independent", "y": "independent"}},
  "layer": [
   {"mark": {"type": "bar", "orient": "vertical", "color": "black", "size": 2},
    "encoding": {"x": {"field": "m", "type": "quantitative", "scale": {"domain": [10, 120], "nice": false, "zero": false}, "axis": {"orient": "bottom", "values": [10,15,20,25,30,35,40,45,50,55,60,65,70,75,80,85,90,95,100,105,110,115,120], "labels": false, "grid": true, "title": null, "tickSize": {"condition": {"test": "datum.value % 10 === 0", "value": 9}, "value": 5}, "tickWidth": {"condition": {"test": "datum.value % 10 === 0", "value": 2}, "value": 1.2}}},
     "y": {"field": "v", "type": "quantitative", "scale": {"domain": [0, 22.8], "nice": false, "zero": false}, "axis": {"orient": "left", "values": [0,6,12,18], "grid": true, "title": null}}}},
   {"data": {"values": [{"id": "b-2"}]}, "mark": {"type": "text", "align": "left", "baseline": "middle", "fontSize": 14.3},
    "encoding": {"x": {"datum": 11.1, "type": "quantitative", "scale": {"domain": [10, 120], "nice": false, "zero": false}, "axis": null}, "y": {"datum": 18.2, "type": "quantitative", "scale": {"domain": [0, 22.8], "nice": false, "zero": false}, "axis": null}, "text": {"field": "id"}}},
   {"data": {"values": [{"d": ["Aged Rural OA 1", "(Langley, Canada; 08/01)"]}]}, "mark": {"type": "text", "align": "left", "baseline": "alphabetic", "fontSize": 14.3, "lineHeight": 19},
    "encoding": {"x": {"datum": 75.9, "type": "quantitative", "scale": {"domain": [10, 120], "nice": false, "zero": false}, "axis": null}, "y": {"datum": 17.55, "type": "quantitative", "scale": {"domain": [0, 22.8], "nice": false, "zero": false}, "axis": {"orient": "right", "labels": false, "ticks": false, "grid": false, "title": null}}, "text": {"field": "d"}}}
  ]},
 {"width": 457, "height": 139, "transform": [{"fold": ["b3"], "as": ["p", "v"]}],
  "resolve": {"axis": {"x": "independent", "y": "independent"}},
  "layer": [
   {"mark": {"type": "bar", "orient": "vertical", "color": "black", "size": 2},
    "encoding": {"x": {"field": "m", "type": "quantitative", "scale": {"domain": [10, 120], "nice": false, "zero": false}, "axis": {"orient": "bottom", "values": [10,15,20,25,30,35,40,45,50,55,60,65,70,75,80,85,90,95,100,105,110,115,120], "labels": false, "grid": true, "title": null, "tickSize": {"condition": {"test": "datum.value % 10 === 0", "value": 9}, "value": 5}, "tickWidth": {"condition": {"test": "datum.value % 10 === 0", "value": 2}, "value": 1.2}}},
     "y": {"field": "v", "type": "quantitative", "scale": {"domain": [0, 22.8], "nice": false, "zero": false}, "axis": {"orient": "left", "values": [0,6,12,18], "grid": true, "title": "% of Σm/z", "titleFontSize": 17, "titleX": -29, "titleY": 61, "titleAngle": -90, "titleAlign": "center", "titleBaseline": "bottom"}}}},
   {"data": {"values": [{"id": "b-3"}]}, "mark": {"type": "text", "align": "left", "baseline": "middle", "fontSize": 14.3},
    "encoding": {"x": {"datum": 11.1, "type": "quantitative", "scale": {"domain": [10, 120], "nice": false, "zero": false}, "axis": null}, "y": {"datum": 18.2, "type": "quantitative", "scale": {"domain": [0, 22.8], "nice": false, "zero": false}, "axis": null}, "text": {"field": "id"}}},
   {"data": {"values": [{"d": ["Aged Rural OA 2", "(Langley, Canada; 08/01)"]}]}, "mark": {"type": "text", "align": "left", "baseline": "alphabetic", "fontSize": 14.3, "lineHeight": 19},
    "encoding": {"x": {"datum": 75.9, "type": "quantitative", "scale": {"domain": [10, 120], "nice": false, "zero": false}, "axis": null}, "y": {"datum": 17.55, "type": "quantitative", "scale": {"domain": [0, 22.8], "nice": false, "zero": false}, "axis": {"orient": "right", "labels": false, "ticks": false, "grid": false, "title": null}}, "text": {"field": "d"}}}
  ]},
 {"width": 457, "height": 139, "transform": [{"fold": ["b4"], "as": ["p", "v"]}],
  "resolve": {"axis": {"x": "independent", "y": "independent"}},
  "layer": [
   {"mark": {"type": "bar", "orient": "vertical", "color": "black", "size": 2},
    "encoding": {"x": {"field": "m", "type": "quantitative", "scale": {"domain": [10, 120], "nice": false, "zero": false}, "axis": {"orient": "bottom", "values": [10,15,20,25,30,35,40,45,50,55,60,65,70,75,80,85,90,95,100,105,110,115,120], "labels": false, "grid": true, "title": null, "tickSize": {"condition": {"test": "datum.value % 10 === 0", "value": 9}, "value": 5}, "tickWidth": {"condition": {"test": "datum.value % 10 === 0", "value": 2}, "value": 1.2}}},
     "y": {"field": "v", "type": "quantitative", "scale": {"domain": [0, 22.8], "nice": false, "zero": false}, "axis": {"orient": "left", "values": [0,6,12,18], "grid": true, "title": null}}}},
   {"data": {"values": [{"id": "b-4"}]}, "mark": {"type": "text", "align": "left", "baseline": "middle", "fontSize": 14.3},
    "encoding": {"x": {"datum": 11.1, "type": "quantitative", "scale": {"domain": [10, 120], "nice": false, "zero": false}, "axis": null}, "y": {"datum": 18.2, "type": "quantitative", "scale": {"domain": [0, 22.8], "nice": false, "zero": false}, "axis": null}, "text": {"field": "id"}}},
   {"data": {"values": [{"d": ["Oxidized Urban OA", "(Vancouver, Canada; 08/01)"]}]}, "mark": {"type": "text", "align": "left", "baseline": "alphabetic", "fontSize": 14.3, "lineHeight": 19},
    "encoding": {"x": {"datum": 71.1, "type": "quantitative", "scale": {"domain": [10, 120], "nice": false, "zero": false}, "axis": null}, "y": {"datum": 17.55, "type": "quantitative", "scale": {"domain": [0, 22.8], "nice": false, "zero": false}, "axis": {"orient": "right", "labels": false, "ticks": false, "grid": false, "title": null}}, "text": {"field": "d"}}}
  ]},
 {"width": 457, "height": 139, "transform": [{"fold": ["b5"], "as": ["p", "v"]}],
  "resolve": {"axis": {"x": "independent", "y": "independent"}},
  "layer": [
   {"mark": {"type": "bar", "orient": "vertical", "color": "black", "size": 2},
    "encoding": {"x": {"field": "m", "type": "quantitative", "scale": {"domain": [10, 120], "nice": false, "zero": false}, "axis": {"orient": "bottom", "values": [10,15,20,25,30,35,40,45,50,55,60,65,70,75,80,85,90,95,100,105,110,115,120], "labels": false, "grid": true, "title": null, "tickSize": {"condition": {"test": "datum.value % 10 === 0", "value": 9}, "value": 5}, "tickWidth": {"condition": {"test": "datum.value % 10 === 0", "value": 2}, "value": 1.2}}},
     "y": {"field": "v", "type": "quantitative", "scale": {"domain": [0, 22.8], "nice": false, "zero": false}, "axis": {"orient": "left", "values": [0,6,12,18], "grid": true, "title": null}}}},
   {"data": {"values": [{"id": "b-5"}]}, "mark": {"type": "text", "align": "left", "baseline": "middle", "fontSize": 14.3},
    "encoding": {"x": {"datum": 11.1, "type": "quantitative", "scale": {"domain": [10, 120], "nice": false, "zero": false}, "axis": null}, "y": {"datum": 18.2, "type": "quantitative", "scale": {"domain": [0, 22.8], "nice": false, "zero": false}, "axis": null}, "text": {"field": "id"}}},
   {"data": {"values": [{"d": ["Humic Acid", "(Lab study)"]}]}, "mark": {"type": "text", "align": "left", "baseline": "alphabetic", "fontSize": 14.3, "lineHeight": 19},
    "encoding": {"x": {"datum": 100.3, "type": "quantitative", "scale": {"domain": [10, 120], "nice": false, "zero": false}, "axis": null}, "y": {"datum": 17.55, "type": "quantitative", "scale": {"domain": [0, 22.8], "nice": false, "zero": false}, "axis": {"orient": "right", "labels": false, "ticks": false, "grid": false, "title": null}}, "text": {"field": "d"}}}
  ]},
 {"width": 457, "height": 139, "transform": [{"fold": ["b6"], "as": ["p", "v"]}],
  "resolve": {"axis": {"x": "independent", "y": "independent"}},
  "layer": [
   {"mark": {"type": "bar", "orient": "vertical", "color": "black", "size": 2},
    "encoding": {"x": {"field": "m", "type": "quantitative", "scale": {"domain": [10, 120], "nice": false, "zero": false}, "axis": {"orient": "bottom", "values": [10,15,20,25,30,35,40,45,50,55,60,65,70,75,80,85,90,95,100,105,110,115,120], "grid": true, "labelExpr": "datum.value % 10 === 0 ? datum.label : ''", "labelPadding": 9, "labelFontSize": 14, "title": "m/z", "titleFontStyle": "italic", "titleFontSize": 15, "titlePadding": 3, "tickSize": {"condition": {"test": "datum.value % 10 === 0", "value": 9}, "value": 5}, "tickWidth": {"condition": {"test": "datum.value % 10 === 0", "value": 2}, "value": 1.2}}},
     "y": {"field": "v", "type": "quantitative", "scale": {"domain": [0, 22.8], "nice": false, "zero": false}, "axis": {"orient": "left", "values": [0,6,12,18], "grid": true, "title": null}}}},
   {"data": {"values": [{"id": "b-6"}]}, "mark": {"type": "text", "align": "left", "baseline": "middle", "fontSize": 14.3},
    "encoding": {"x": {"datum": 11.1, "type": "quantitative", "scale": {"domain": [10, 120], "nice": false, "zero": false}, "axis": null}, "y": {"datum": 18.2, "type": "quantitative", "scale": {"domain": [0, 22.8], "nice": false, "zero": false}, "axis": null}, "text": {"field": "id"}}},
   {"data": {"values": [{"d": ["Fulvic Acid", "(Lab study)"]}]}, "mark": {"type": "text", "align": "left", "baseline": "alphabetic", "fontSize": 14.3, "lineHeight": 19},
    "encoding": {"x": {"datum": 100.5, "type": "quantitative", "scale": {"domain": [10, 120], "nice": false, "zero": false}, "axis": null}, "y": {"datum": 17.55, "type": "quantitative", "scale": {"domain": [0, 22.8], "nice": false, "zero": false}, "axis": {"orient": "right", "labels": false, "ticks": false, "grid": false, "title": null}}, "text": {"field": "d"}}}
  ]}
 ]}
]}
]
}
